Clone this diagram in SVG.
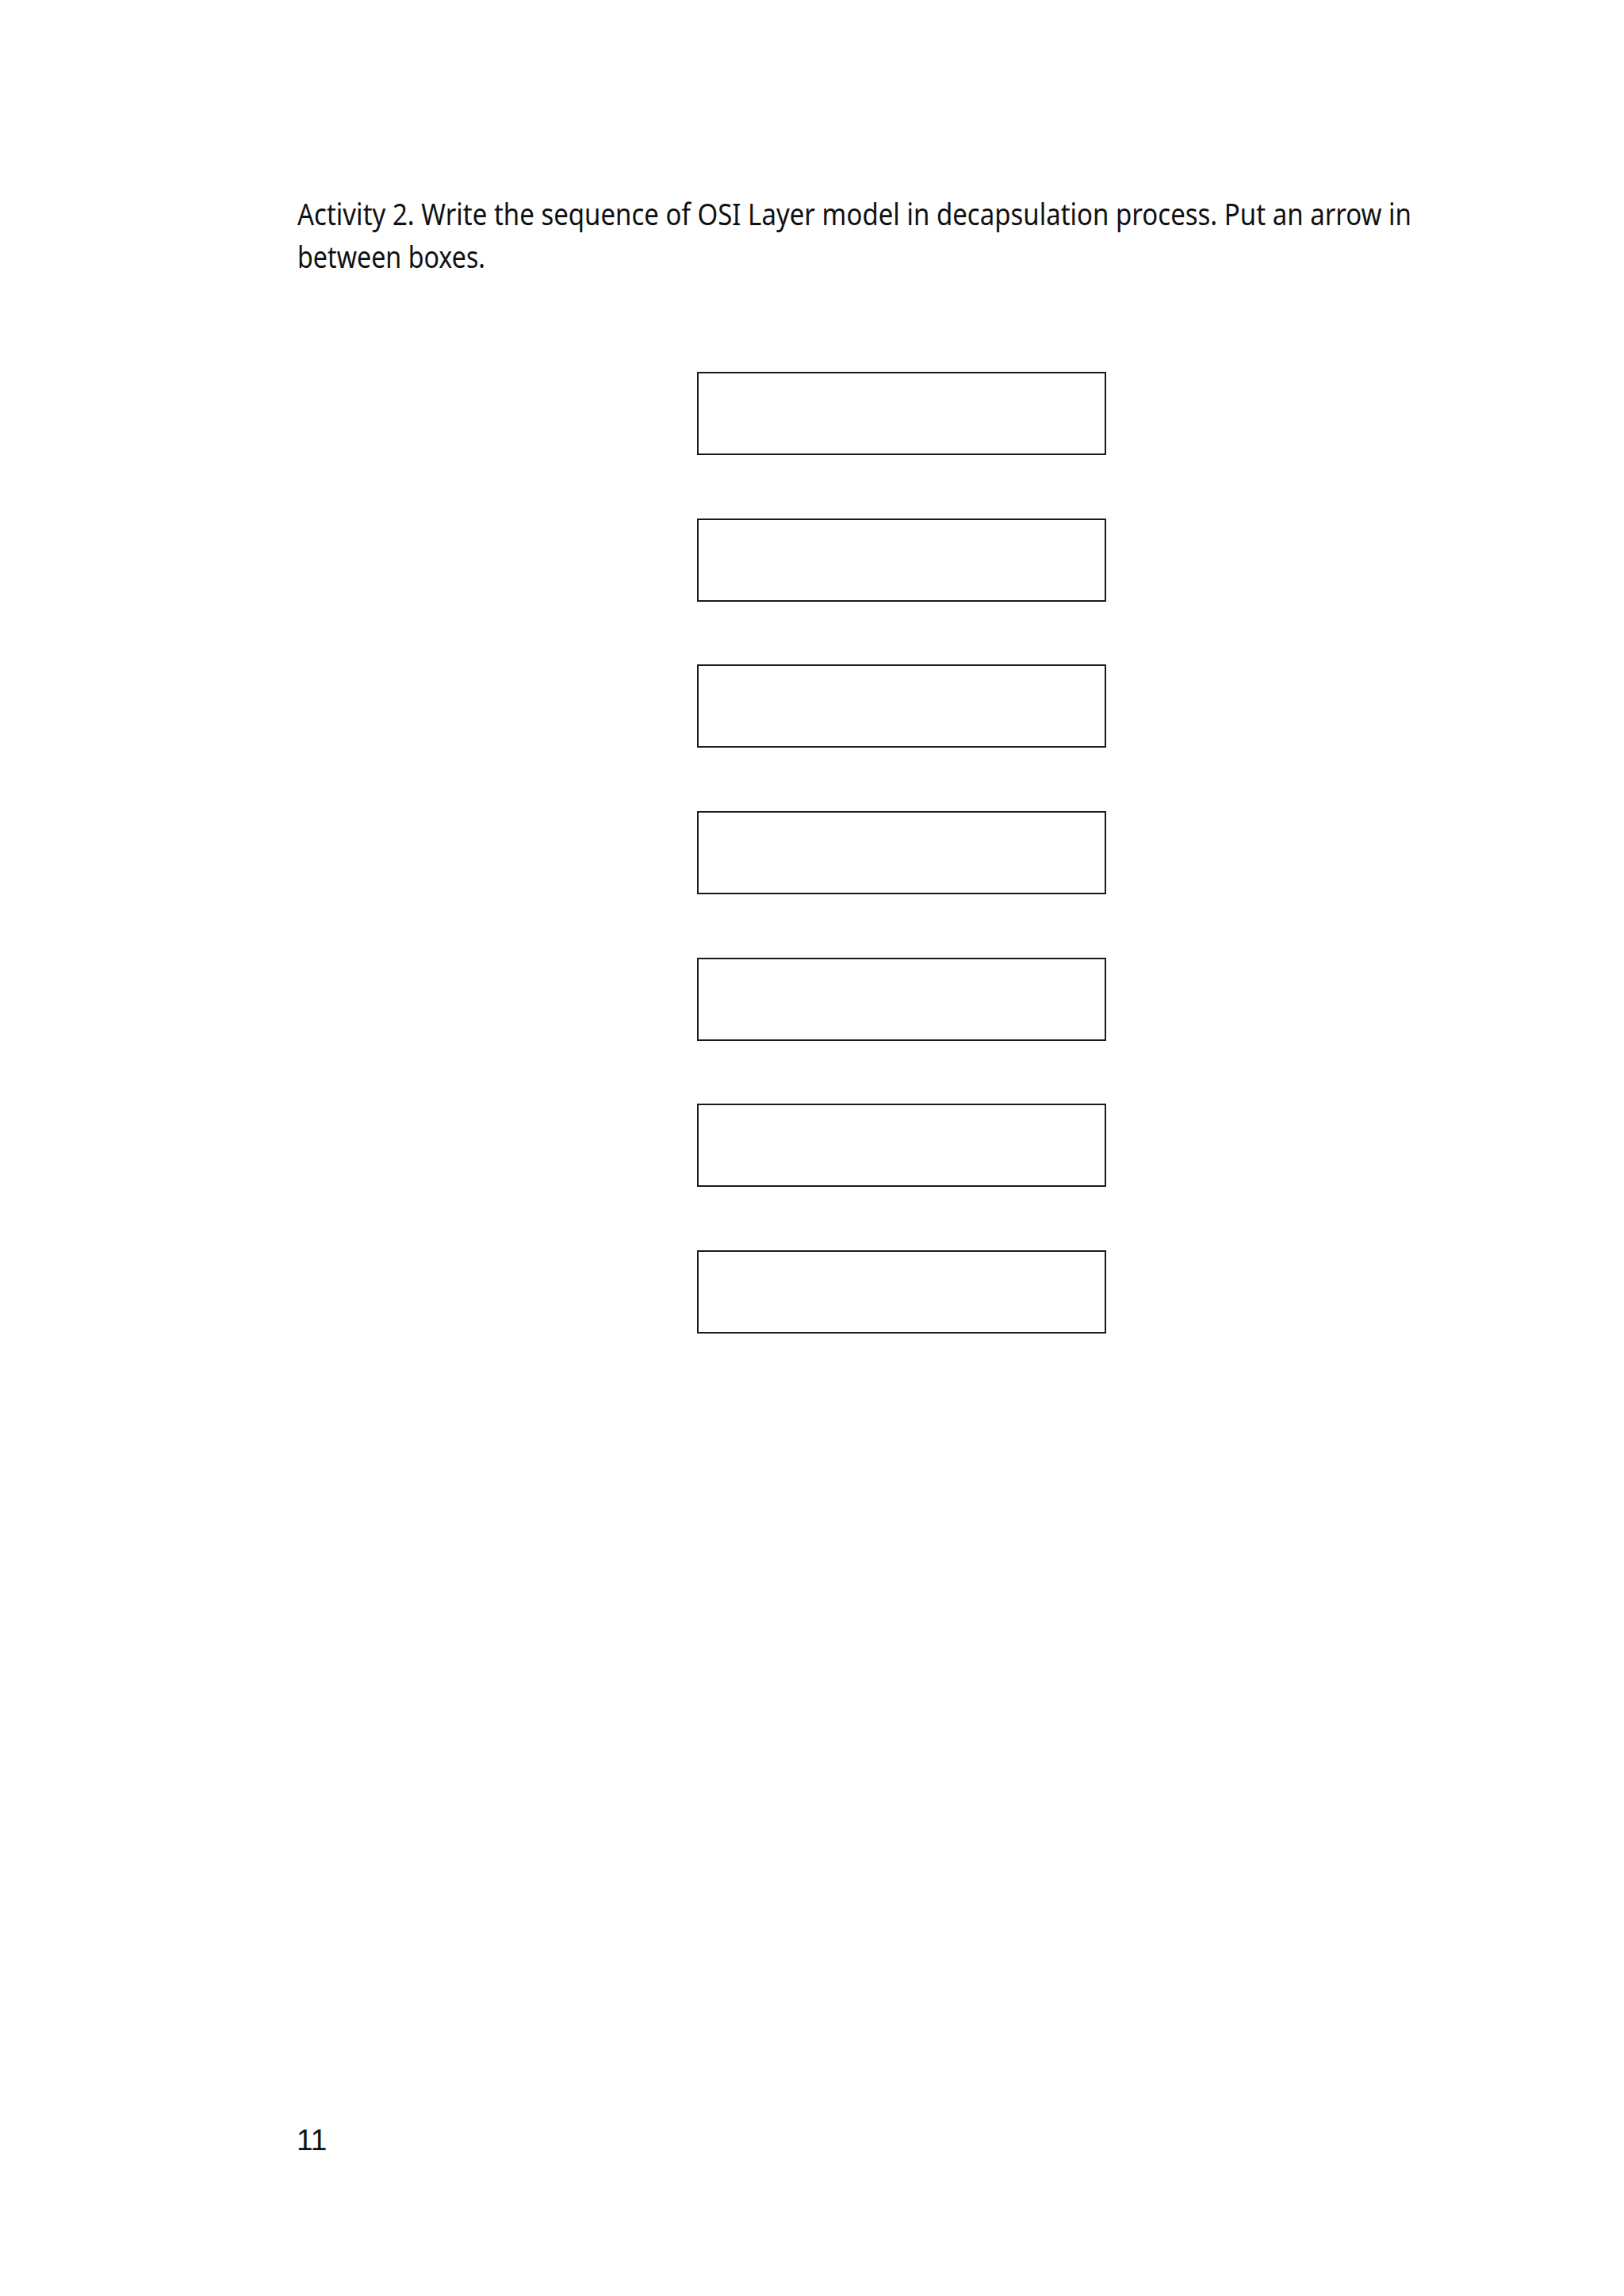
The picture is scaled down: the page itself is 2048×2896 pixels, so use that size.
<svg xmlns="http://www.w3.org/2000/svg" width="2048" height="2896" viewBox="0 0 2048 2896">
<style>
.t{font-family:"Noto Sans","Open Sans",sans-serif;font-size:38px;fill:#111}
.n{font-family:"Liberation Sans",Arial,sans-serif;font-size:37px;fill:#111}
.box{fill:#fff;stroke:#1a1a1a;stroke-width:2}
</style>
<rect width="2048" height="2896" fill="#fff"/>
<g id="title">
<text class="t" x="375" y="284" textLength="1405" lengthAdjust="spacingAndGlyphs">Activity 2. Write the sequence of OSI Layer model in decapsulation process. Put an arrow in</text>
<text class="t" x="375" y="338" textLength="237" lengthAdjust="spacingAndGlyphs">between boxes.</text>
</g>
<g id="box1"><rect class="box" x="880" y="470" width="514" height="103"/></g>
<g id="box2"><rect class="box" x="880" y="655" width="514" height="103"/></g>
<g id="box3"><rect class="box" x="880" y="839" width="514" height="103"/></g>
<g id="box4"><rect class="box" x="880" y="1024" width="514" height="103"/></g>
<g id="box5"><rect class="box" x="880" y="1209" width="514" height="103"/></g>
<g id="box6"><rect class="box" x="880" y="1393" width="514" height="103"/></g>
<g id="box7"><rect class="box" x="880" y="1578" width="514" height="103"/></g>
<g id="connectors"></g>
<g id="page-number"><text class="n" x="374" y="2712">11</text></g>
</svg>
